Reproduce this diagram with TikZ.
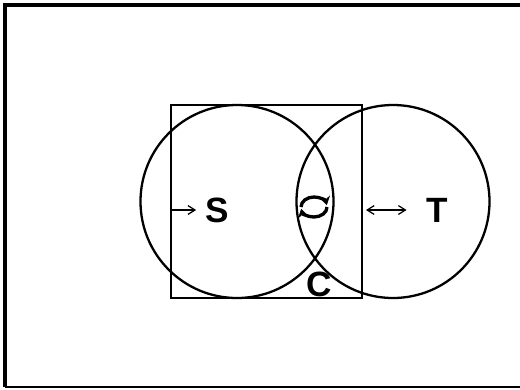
\documentclass[tikz,border=0pt]{standalone}
\usepackage{fontspec}
\setmainfont{Liberation Sans}
\usetikzlibrary{arrows.meta}
\begin{document}
\begin{tikzpicture}[x=0.02cm,y=-0.02cm,>={Straight Barb[length=4pt,width=5pt]},
  outline/.style={line width=1.3pt},
  letter/.style={font=\fontsize{20}{20}\selectfont\bfseries,inner sep=0pt}]
\useasboundingbox (0,0) rectangle (520,389);

% Frame
\draw[line width=1.8pt] (5,387) -- (5,5) -- (522,5);
\draw[line width=1.4pt] (5,387) -- (522,387);

% Square and the two circles
\draw[outline] (171,105) rectangle (362,298);
\draw[outline] (237,201.5) circle (96.5);
\draw[outline] (393,201.5) circle (96.5);

% Labels
\node[letter] (S) at (217,210) {S};
\node[letter] (T) at (437,210) {T};
\node[letter] (C) at (319,284) {C};

% Arrows
\coordinate (sqL) at (172,210);
\coordinate (sqR) at (366,210);
\draw[line width=0.7pt,->] (sqL) -- ([xshift=-5pt]S.west);
\draw[line width=0.7pt,<->] (sqR) -- ([xshift=-11pt]T.west);

% Rotation sign in the lens
\coordinate (rot) at (314,207);
\draw[line width=1.9pt,-{Stealth[length=5pt,width=6pt]}] ([shift={(180:13 and 10)}]rot) arc[start angle=180,end angle=350,x radius=13,y radius=10];
\draw[line width=1.9pt,-{Stealth[length=5pt,width=6pt]}] ([shift={(0:13 and 10)}]rot) arc[start angle=0,end angle=170,x radius=13,y radius=10];
\end{tikzpicture}
\end{document}
